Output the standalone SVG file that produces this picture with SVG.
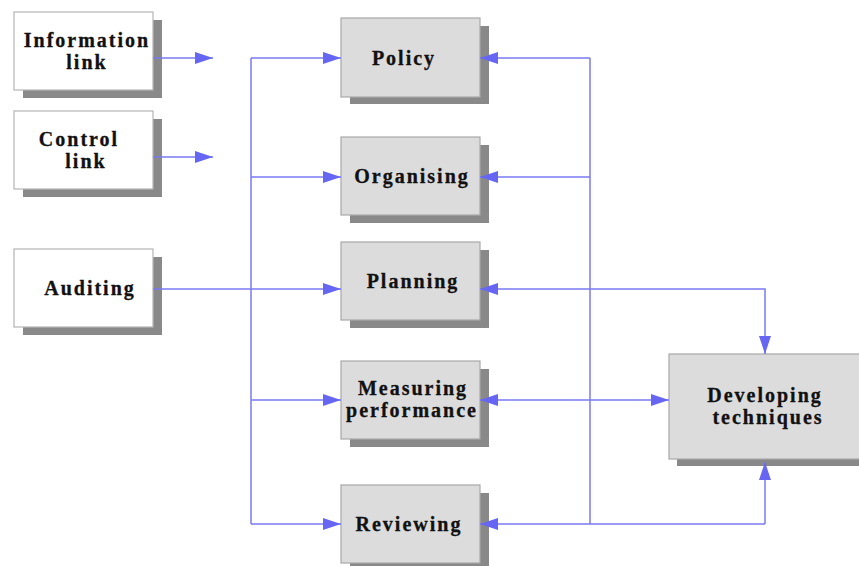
<svg xmlns="http://www.w3.org/2000/svg" width="859" height="566" viewBox="0 0 859 566">
<defs>
<marker id="ah" markerUnits="userSpaceOnUse" markerWidth="18" markerHeight="12" refX="18" refY="6" orient="auto-start-reverse">
<path d="M0,0 L18,6 L0,12 Z" fill="#6666f2"/>
</marker>
</defs>
<style>
.sh{fill:#898989}
.wb{fill:#ffffff;stroke:#b4b4b4;stroke-width:1.2}
.gb{fill:#dcdcdc;stroke:#a8a8a8;stroke-width:1.2}
.t{font-family:'Liberation Serif','DejaVu Serif',serif;font-weight:bold;font-size:20px;letter-spacing:2px;fill:#111;stroke:#111;stroke-width:0.3;text-anchor:middle}
.c{fill:none;stroke:#7a7af2;stroke-width:1.5}
</style>
<rect width="859" height="566" fill="#ffffff"/>
<g id="information-link">
<rect class="sh" x="23" y="20" width="139" height="78"/>
<rect class="wb" x="14" y="12" width="139" height="78"/>
<text class="t" x="87" y="47">Information</text>
<text class="t" x="87" y="69">link</text>
</g>
<g id="control-link">
<rect class="sh" x="23" y="119" width="139" height="78"/>
<rect class="wb" x="14" y="111" width="139" height="78"/>
<text class="t" x="79" y="146">Control</text>
<text class="t" x="86" y="168">link</text>
</g>
<g id="auditing">
<rect class="sh" x="23" y="257" width="139" height="78"/>
<rect class="wb" x="14" y="249" width="139" height="78"/>
<text class="t" x="90" y="295">Auditing</text>
</g>
<g id="policy">
<rect class="sh" x="350" y="26" width="139" height="78"/>
<rect class="gb" x="341" y="18" width="139" height="79"/>
<text class="t" x="404" y="65">Policy</text>
</g>
<g id="organising">
<rect class="sh" x="350" y="145" width="139" height="78"/>
<rect class="gb" x="341" y="137" width="139" height="78"/>
<text class="t" x="412" y="183">Organising</text>
</g>
<g id="planning">
<rect class="sh" x="350" y="250" width="139" height="78"/>
<rect class="gb" x="341" y="242" width="139" height="78"/>
<text class="t" x="413" y="288">Planning</text>
</g>
<g id="measuring-performance">
<rect class="sh" x="350" y="369" width="139" height="78"/>
<rect class="gb" x="341" y="361" width="139" height="78"/>
<text class="t" x="413" y="395">Measuring</text>
<text class="t" x="412" y="417">performance</text>
</g>
<g id="reviewing">
<rect class="sh" x="350" y="493" width="139" height="78"/>
<rect class="gb" x="341" y="485" width="139" height="78"/>
<text class="t" x="409" y="531">Reviewing</text>
</g>
<g id="developing-techniques">
<rect class="sh" x="677" y="362" width="200" height="104"/>
<rect class="gb" x="669" y="354" width="200" height="105"/>
<text class="t" x="765" y="402">Developing</text>
<text class="t" x="768" y="424">techniques</text>
</g>
<g id="connectors">
<path class="c" d="M153,58 H213" marker-end="url(#ah)"/>
<path class="c" d="M153,157 H213" marker-end="url(#ah)"/>
<path class="c" d="M153,289 H341" marker-end="url(#ah)"/>
<path class="c" d="M251,58 V524"/>
<path class="c" d="M251,58 H341" marker-end="url(#ah)"/>
<path class="c" d="M251,177 H341" marker-end="url(#ah)"/>
<path class="c" d="M251,400 H341" marker-end="url(#ah)"/>
<path class="c" d="M251,524 H341" marker-end="url(#ah)"/>
<path class="c" d="M590,58 V524"/>
<path class="c" d="M590,58 H480" marker-end="url(#ah)"/>
<path class="c" d="M590,177 H480" marker-end="url(#ah)"/>
<path class="c" d="M765,524 H480" marker-end="url(#ah)"/>
<path class="c" d="M765,524 V462" marker-end="url(#ah)"/>
<path class="c" d="M480,289 H765 V354" marker-start="url(#ah)" marker-end="url(#ah)"/>
<path class="c" d="M480,400 H669" marker-start="url(#ah)" marker-end="url(#ah)"/>
</g>
</svg>
